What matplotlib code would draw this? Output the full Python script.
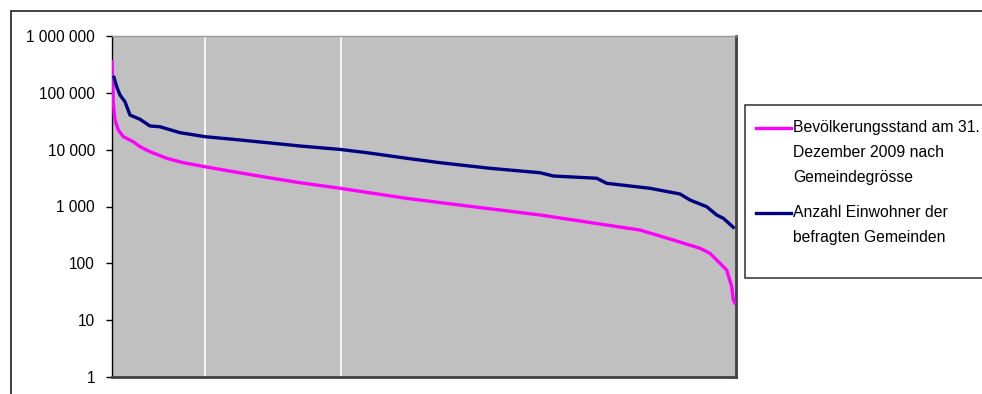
import matplotlib
matplotlib.use("Agg")
import matplotlib.pyplot as plt
from matplotlib.lines import Line2D
from matplotlib.patches import Rectangle
from matplotlib.ticker import FixedLocator, NullLocator

plt.rcParams['font.family'] = ['Liberation Sans', 'DejaVu Sans']

# rank position in % of communes (sorted by size), population
pink_x = [0.0, 0.21, 0.48, 1.01, 1.81, 3.41, 4.49, 6.09, 8.77, 11.43, 14.95, 19.44,
          24.79, 30.13, 36.54, 47.23, 57.90, 68.59, 79.28, 84.62, 89.95, 94.23,
          95.83, 97.44, 98.51, 99.31, 99.57, 99.84]
pink_y = [353000, 65500, 33200, 22200, 16900, 13800, 11300, 9200, 7050, 5900, 5000, 4100,
          3260, 2620, 2090, 1390, 990, 710, 472, 385, 257, 184,
          150, 100, 76, 39, 22.6, 20]

blue_x = [0.32, 0.75, 1.28, 2.08, 2.88, 4.49, 6.09, 7.69, 10.90, 14.95, 19.44, 24.79,
          30.13, 36.54, 40.82, 43.48, 47.23, 52.56, 60.58, 68.59, 70.72, 77.68,
          79.28, 86.22, 91.03, 92.63, 95.30, 96.91, 97.97, 99.57]
blue_y = [187000, 128000, 91600, 69800, 40700, 34200, 26100, 25300, 19900, 16900, 15200, 13300,
          11600, 10100, 8850, 8060, 7050, 5900, 4700, 3930, 3440, 3140,
          2560, 2090, 1660, 1300, 992, 708, 620, 430]

grid_x = [14.9, 36.7]
y_ticks = [1, 10, 100, 1000, 10000, 100000, 1000000]
y_labels = ['1', '10', '100', '1 000', '10 000', '100 000', '1 000 000']

label_pink = 'Bevölkerungsstand am 31.\nDezember 2009 nach\nGemeindegrösse'
label_blue = 'Anzahl Einwohner der\nbefragten Gemeinden'

W, H = 982, 394
fig = plt.figure(figsize=(W / 100, H / 100), dpi=100)

def fx(px):
    return px / W

def fy(py):
    return 1 - py / H

# outer chart border (only top and left fall inside the picture)
fig.patches.append(Rectangle((fx(11), fy(500)), fx(1100) - fx(11), fy(11) - fy(500),
                             transform=fig.transFigure, fill=False, edgecolor='#202020', lw=1.2))

ax = fig.add_axes([fx(112), fy(377), fx(736) - fx(112), fy(36) - fy(377)])
ax.set_facecolor('#C0C0C0')
for gx in grid_x:
    ax.axvline(gx, color='white', lw=1.2, zorder=1)

ax.plot(pink_x, pink_y, color='#FF00FF', lw=2.4, zorder=3, solid_joinstyle='round')
ax.plot(blue_x, blue_y, color='#000080', lw=2.4, zorder=3, solid_joinstyle='round')

ax.set_yscale('log')
ax.set_ylim(1, 1000000)
ax.set_xlim(0, 100)
ax.yaxis.set_major_locator(FixedLocator(y_ticks))
ax.set_yticklabels(y_labels)
ax.yaxis.set_minor_locator(NullLocator())
ax.set_xticks([])
ax.tick_params(axis='y', direction='out', length=4.3, width=1, colors='black',
               labelsize=11.2, pad=8)

ax.spines['left'].set_color('black')
ax.spines['left'].set_linewidth(1.0)
ax.spines['top'].set_color('#999999')
ax.spines['top'].set_linewidth(1.0)
ax.spines['right'].set_color('#404040')
ax.spines['right'].set_linewidth(2.0)
ax.spines['bottom'].set_color('#404040')
ax.spines['bottom'].set_linewidth(2.0)

# legend box
fig.patches.append(Rectangle((fx(745), fy(278)), fx(1100) - fx(745), fy(105) - fy(278),
                             transform=fig.transFigure, facecolor='white',
                             edgecolor='#404040', lw=1.2))
for ly, col, lab in [(128, '#FF00FF', label_pink), (213, '#000080', label_blue)]:
    fig.lines.append(Line2D([fx(756), fx(791)], [fy(ly), fy(ly)], transform=fig.transFigure,
                            color=col, lw=2.4))
    fig.text(fx(793), fy(ly - 8), lab, fontsize=11.3, va='top', ha='left', linespacing=1.85)

fig.savefig('out.png', dpi=100)
